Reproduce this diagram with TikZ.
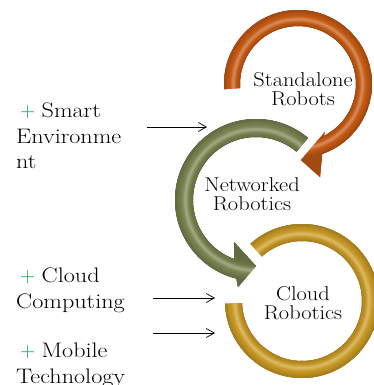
\documentclass[tikz,border=0pt]{standalone}
\usepackage{fontspec}
\usepackage{graphicx}
\usetikzlibrary{arrows.meta}

\definecolor{standorange}{RGB}{200,90,18}
\definecolor{netgreen}{RGB}{122,132,80}
\definecolor{cloudgold}{RGB}{204,156,36}
\definecolor{plusgreen}{RGB}{0,166,81}

% the lettering runs wider than Latin Modern
\newcommand\wide[2][1.12]{\scalebox{#1}[1]{#2}}
\newcommand\plus{\hspace*{4pt}\textcolor{plusgreen}{+}}

\tikzset{
  ringlabel/.style={align=center, inner sep=0pt, font=\fontsize{20}{18.5}\selectfont},
  sidelabel/.style={align=left, inner sep=0pt, anchor=north west, font=\fontsize{21}{25.5}\selectfont},
  feed/.style={->, line width=0.7pt},
}

% rounded band look: concentric circles, darker at the rims, light strip inside
% #1 inner radius, #2 outer radius, #3 colour
\newcommand\tubeshade[3]{%
  \foreach \r in {20,20.5,...,110}{%
    \pgfmathsetmacro\t{max(0,min(1,(\r-#1)/(#2-#1)))}%
    \pgfmathtruncatemacro\a{80+20*sin(180*\t)}%
    \pgfmathtruncatemacro\b{100-28*exp(-((\t-0.45)/0.13)^2)}%
    \draw[line width=1.6pt, #3!\a!black!\b!white] (0,0) circle (\r);
  }%
}

\begin{document}
\begin{tikzpicture}[x=1pt, y=-1pt, >={Straight Barb[length=8pt,width=9pt]}]
\path[use as bounding box, fill=white] (0,0) rectangle (374,385);

% cloud robotics ring
\begin{scope}[shift={(302,301)}]
  \clip (228:77) arc[start angle=228, end angle=538, radius=77]
     -- (538:60) arc[start angle=538, end angle=228, radius=60] -- cycle;
  \tubeshade{60}{77}{cloudgold}
\end{scope}

% standalone robots arrow
\begin{scope}[shift={(298,84)}]
  \clip (176:74) arc[start angle=176, end angle=431, radius=74]
     -- (22,93) -- (3,76) -- (27,48)
     -- (424:58) arc[start angle=424, end angle=176, radius=58] -- cycle;
  \tubeshade{58}{74}{standorange}
\end{scope}

% networked robotics arrow
\begin{scope}[shift={(256,200)}]
  \clip (-50:81) arc[start angle=-50, end angle=-256, radius=81]
     -- (-18,87) -- (0,66) -- (-22,42)
     -- (-250:63) arc[start angle=-250, end angle=-50, radius=63] -- cycle;
  \tubeshade{63}{81}{netgreen}
\end{scope}

\node[ringlabel] (standalone) at (303,89) {\wide{Standalone}\\\wide{Robots}};
\node[ringlabel] (networked) at (252,194) {\wide{Networked}\\\wide{Robotics}};
\node[ringlabel] (cloud) at (303,303) {\wide{Cloud}\\\wide{Robotics}};

\node[sidelabel] (smart) at (16,103) {\plus\ \wide[1.15]{Smart}\\\wide[1.15]{Environme}\\\wide[1.15]{nt}};
\node[sidelabel] (computing) at (16,268) {\plus\ \wide[1.15]{Cloud}\\\wide[1.15]{Computing}};
\node[sidelabel] (mobile) at (16,343) {\plus\ \wide[1.15]{Mobile}\\\wide[1.15]{Technology}};

% what feeds into each stage
\coordinate (smart-from) at (147,127);
\coordinate (smart-to) at (207,127);
\coordinate (computing-from) at (153,298);
\coordinate (computing-to) at (215,298);
\coordinate (mobile-from) at (153,333);
\coordinate (mobile-to) at (215,333);
\draw[feed] (smart-from) -- (smart-to);
\draw[feed] (computing-from) -- (computing-to);
\draw[feed] (mobile-from) -- (mobile-to);
\end{tikzpicture}
\end{document}
